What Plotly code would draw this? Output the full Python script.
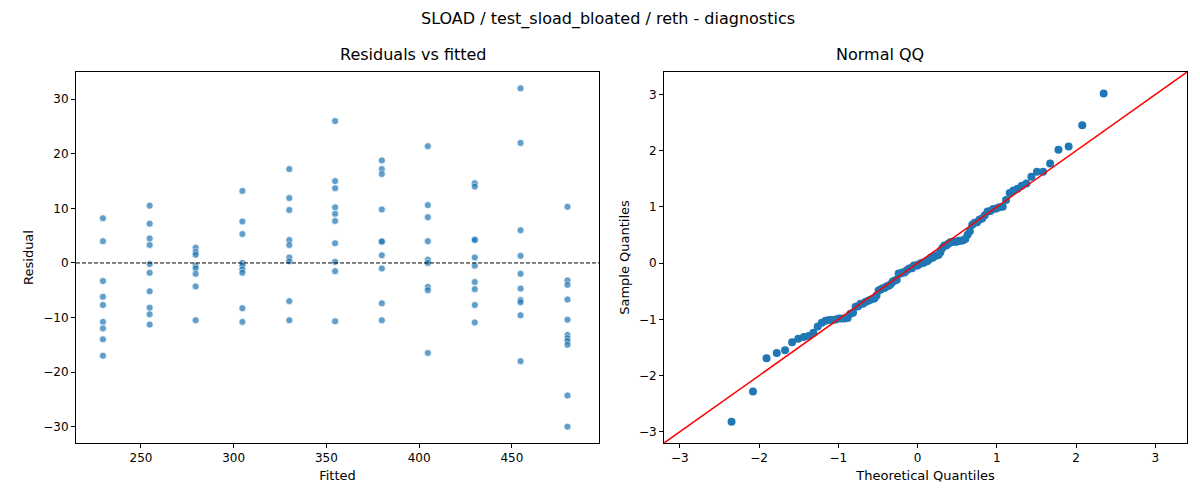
import plotly.graph_objects as go
import numpy as np
from statistics import NormalDist

fitted_levels = [229.5, 254.7, 279.5, 304.7, 330.0, 354.7, 379.9, 404.7, 430.0, 454.7, 480.0]
residual_groups = [
    [8.2, 4, -3.3, -6.2, -7.7, -10.8, -12, -14, -17],
    [10.5, 7.2, 4.5, 3.3, -0.2, -1.8, -5.2, -8.2, -9.4, -11.3],
    [2.8, 2, 1.5, -0.5, -1, -2, -4.3, -10.5],
    [13.2, 7.6, 5.3, 0, -0.5, -1.2, -1.8, -8.3, -10.8],
    [17.2, 11.9, 9.7, 4.2, 3.3, 1, 0.3, -7, -10.5],
    [26, 15, 13.7, 10.2, 9, 7.7, 3.6, 0.2, -1.5, -10.7],
    [18.8, 17.2, 16.3, 9.8, 4, 3.9, 1.4, -1, -7.4, -10.5],
    [21.4, 10.6, 8.4, 4, 0.6, 0, -4.4, -5, -16.5],
    [14.6, 14, 4.3, 4.2, 1, -0.5, -3.5, -4.8, -7.7, -10.9],
    [32, 22, 6, 1.3, -2, -4.7, -6.8, -7.2, -9.6, -18],
    [10.3, -3.2, -4, -6.7, -10.4, -13.2, -13.8, -14.3, -15, -24.3, -30],
]

fitted = [f for f, g in zip(fitted_levels, residual_groups) for _ in g]
resid = [r for g in residual_groups for r in g]

# QQ from standardized residuals, plotting positions i/(n+1)
r = np.array(resid)
sample_q = np.sort((r - r.mean()) / r.std(ddof=1))
n = len(sample_q)
theo_q = [NormalDist().inv_cdf((i + 1) / (n + 1)) for i in range(n)]

blue = '#1f77b4'
fig = go.Figure()
fig.add_trace(go.Scatter(x=fitted, y=resid, mode='markers', xaxis='x', yaxis='y',
                         marker=dict(color=blue, opacity=0.7, size=7, line=dict(color='white', width=0.7))))
fig.add_trace(go.Scatter(x=theo_q, y=sample_q, mode='markers', xaxis='x2', yaxis='y2',
                         marker=dict(color=blue, size=8)))
fig.add_trace(go.Scatter(x=[-3.2, 3.4], y=[-3.2, 3.4], mode='lines', xaxis='x2', yaxis='y2',
                         line=dict(color='red', width=1.5)))

ax = dict(showgrid=False, zeroline=False, showline=True, mirror=True, linecolor='black', linewidth=1,
          ticks='outside', ticklen=4, tickcolor='black', tickfont=dict(size=12))
fig.update_layout(
    width=1200, height=500, showlegend=False, plot_bgcolor='white', paper_bgcolor='white',
    margin=dict(l=0, r=0, t=0, b=0),
    font=dict(family='DejaVu Sans', color='black'),
    xaxis=dict(ax, domain=[0.0567, 0.4925], range=[215, 497], tickvals=[250, 300, 350, 400, 450],
               title=dict(text='Fitted', font=dict(size=13), standoff=6)),
    yaxis=dict(ax, domain=[0.13, 0.872], range=[-33, 35], tickvals=[-30, -20, -10, 0, 10, 20, 30],
               title=dict(text='Residual', font=dict(size=13), standoff=6)),
    xaxis2=dict(ax, anchor='y2', domain=[0.5467, 0.9825], range=[-3.2, 3.4], dtick=1,
                title=dict(text='Theoretical Quantiles', font=dict(size=13), standoff=6)),
    yaxis2=dict(ax, anchor='x2', domain=[0.13, 0.872], range=[-3.2, 3.4], dtick=1,
                title=dict(text='Sample Quantiles', font=dict(size=13), standoff=6)),
    shapes=[dict(type='line', xref='x domain', yref='y', x0=0, x1=1, y0=0, y1=0,
                 line=dict(color='black', width=1, dash='4px,2px'))],
    annotations=[
        dict(text='SLOAD / test_sload_bloated / reth - diagnostics', x=0.5, y=0.978, xref='paper',
             yref='paper', yanchor='middle', showarrow=False, font=dict(size=16)),
        dict(text='Residuals vs fitted', x=0.2746, y=0.884, xref='paper', yref='paper', yanchor='bottom',
             showarrow=False, font=dict(size=16)),
        dict(text='Normal QQ', x=0.7646, y=0.884, xref='paper', yref='paper', yanchor='bottom',
             showarrow=False, font=dict(size=16)),
    ],
)
fig.write_html('out.html')
